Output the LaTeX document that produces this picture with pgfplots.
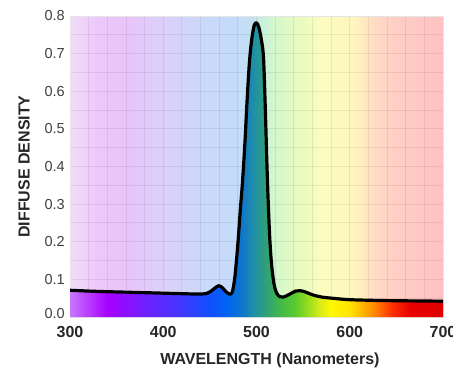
\documentclass[border=0pt]{standalone}
\usepackage{pgfplots}
\pgfplotsset{compat=1.18}
\usepackage{fontspec}
\setmainfont{Liberation Sans}

% pale background spectrum
\definecolor{bgA}{HTML}{F2DCF8}
\definecolor{bgB}{HTML}{EDC8FA}
\definecolor{bgC}{HTML}{E8C4FA}
\definecolor{bgD}{HTML}{DCD0FA}
\definecolor{bgE}{HTML}{CCD8FA}
\definecolor{bgF}{HTML}{C4DCFA}
\definecolor{bgG}{HTML}{C4E0F0}
\definecolor{bgH}{HTML}{C8F0DC}
\definecolor{bgI}{HTML}{D4F8CC}
\definecolor{bgJ}{HTML}{E8FAC0}
\definecolor{bgK}{HTML}{FCFCC0}
\definecolor{bgL}{HTML}{FFF6BE}
\definecolor{bgM}{HTML}{FFDCC4}
\definecolor{bgN}{HTML}{FFCEC4}
\definecolor{bgO}{HTML}{FFC0C4}
% saturated spectrum
\definecolor{spA}{HTML}{C878FF}
\definecolor{spB}{HTML}{A800FF}
\definecolor{spC}{HTML}{7020FF}
\definecolor{spD}{HTML}{4038FF}
\definecolor{spE}{HTML}{1050FF}
\definecolor{spF}{HTML}{0066F0}
\definecolor{spG}{HTML}{1078C8}
\definecolor{spH}{HTML}{2090A8}
\definecolor{spI}{HTML}{30A078}
\definecolor{spJ}{HTML}{40B848}
\definecolor{spK}{HTML}{58C830}
\definecolor{spL}{HTML}{98DC20}
\definecolor{spM}{HTML}{D8EC18}
\definecolor{spN}{HTML}{FFF800}
\definecolor{spO}{HTML}{FFE400}
\definecolor{spP}{HTML}{FFB000}
\definecolor{spQ}{HTML}{FF8000}
\definecolor{spR}{HTML}{FF3000}
\definecolor{spS}{HTML}{E80000}
\definecolor{spT}{HTML}{E00000}

\pgfdeclarehorizontalshading{bgspec}{100bp}{color(0bp)=(bgA); color(25bp)=(bgA); color(28.75bp)=(bgB); color(32.5bp)=(bgC); color(37.5bp)=(bgD); color(42.5bp)=(bgE); color(47.5bp)=(bgF); color(49.375bp)=(bgG); color(50.625bp)=(bgH); color(52.5bp)=(bgI); color(55.625bp)=(bgJ); color(58.75bp)=(bgK); color(63.125bp)=(bgL); color(65.625bp)=(bgM); color(68.75bp)=(bgN); color(75bp)=(bgO); color(100bp)=(bgO)}

\pgfdeclarehorizontalshading{spec}{100bp}{color(0bp)=(spA); color(25bp)=(spA); color(30bp)=(spB); color(35bp)=(spC); color(40bp)=(spD); color(43.75bp)=(spE); color(46.25bp)=(spF); color(48.125bp)=(spG); color(49.625bp)=(spH); color(51.25bp)=(spI); color(53.125bp)=(spJ); color(55bp)=(spK); color(56.875bp)=(spL); color(58.5bp)=(spM); color(60bp)=(spN); color(62.5bp)=(spO); color(64.375bp)=(spP); color(66bp)=(spQ); color(68.125bp)=(spR); color(70.625bp)=(spS); color(75bp)=(spT); color(100bp)=(spT)}

\pgfplotstableread{
nm d
300 0.071
330 0.068
360 0.066
390 0.064
420 0.062
440 0.061
448 0.064
454 0.074
459 0.083
463 0.079
467 0.068
471 0.061
474 0.066
476.5 0.10
478.5 0.15
480.5 0.21
482.5 0.28
485 0.36
487.5 0.46
490 0.58
492.5 0.68
495 0.74
497.5 0.775
500 0.782
502.5 0.77
505 0.74
507.5 0.69
509.5 0.55
511 0.42
512.5 0.31
514 0.22
515.5 0.16
517 0.12
519 0.085
521.5 0.064
525 0.054
529 0.053
535 0.060
542 0.069
547 0.070
553 0.066
560 0.059
570 0.053
585 0.049
600 0.046
630 0.044
660 0.043
700 0.042
}\curve

\begin{document}
\begin{tikzpicture}
\begin{axis}[
  name=ax,
  scale only axis,
  width=373bp, height=301bp,
  xmin=300, xmax=700, ymin=0, ymax=0.8,
  xtick={300,400,500,600,700},
  ytick={0,0.1,0.2,0.3,0.4,0.5,0.6,0.7,0.8},
  yticklabels={\raisebox{7bp}{0.0},0.1,0.2,0.3,0.4,0.5,0.6,0.7,0.8},
  minor x tick num=4,
  minor y tick num=1,
  grid=both,
  grid style={black, opacity=0.07, line width=0.9pt},
  major grid style={black, opacity=0.07, line width=0.9pt},
  tick style={draw=none},
  axis line style={draw=black!10, line width=0.8pt},
  axis background/.style={shade, shading=bgspec},
  /pgf/number format/assume math mode=true,
  xticklabel style={font=\bfseries\fontsize{16bp}{18bp}\selectfont, text=black!85, inner sep=0pt, yshift=-9bp},
  yticklabel style={font=\fontsize{14.5bp}{16bp}\selectfont, text=black!75, inner sep=0pt, xshift=-5bp},
  xlabel={WAVELENGTH (Nanometers)},
  ylabel={DIFFUSE DENSITY},
  xlabel style={font=\bfseries\fontsize{16bp}{18bp}\selectfont, text=black!85, at={(axis description cs:0.536,0)}, anchor=center, yshift=-43bp},
  ylabel style={font=\bfseries\fontsize{16bp}{18bp}\selectfont, text=black!85, at={(axis description cs:0,0.5)}, anchor=center, yshift=46bp},
]
\addplot[draw=none, shade, shading=spec, smooth] table[x=nm, y=d] {\curve} \closedcycle;
\addplot[black, line width=3.2pt, smooth, line join=round] table[x=nm, y=d] {\curve};
\end{axis}
\pgfresetboundingbox
\path[use as bounding box] ([xshift=-70bp,yshift=-52bp]ax.south west) rectangle ([xshift=10bp,yshift=16bp]ax.north east);
\end{tikzpicture}
\end{document}
